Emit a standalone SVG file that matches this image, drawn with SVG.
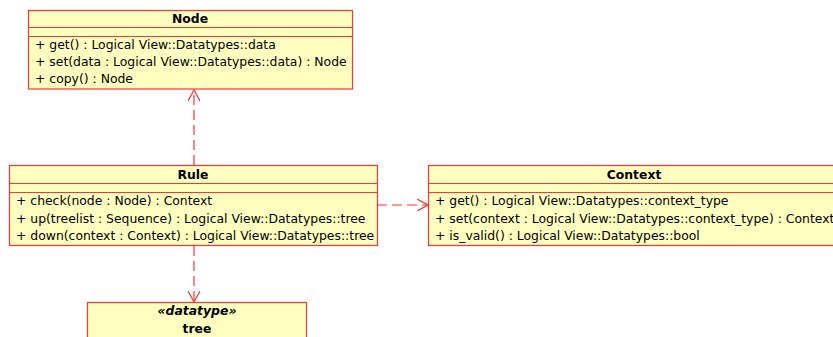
<svg xmlns="http://www.w3.org/2000/svg" width="833" height="337" viewBox="0 0 833 337">
<defs>
<style>
.box{fill:#ffffc0;stroke:#ff3333;stroke-width:1.2}
.ln{stroke:#ff3333;stroke-width:1.2}
text{font-family:"DejaVu Sans",sans-serif;font-size:12.4px;fill:#000}
.t{font-weight:bold;text-anchor:middle}
.st{font-weight:bold;font-style:italic;text-anchor:middle}
.dep{fill:none;stroke:#ff3333;stroke-width:1.2;stroke-dasharray:10,5}
</style>
<marker id="open" markerWidth="12" markerHeight="12" refX="11" refY="6" orient="auto" markerUnits="userSpaceOnUse">
<path d="M0,0 L11,6 L0,12" fill="none" stroke="#ff3333" stroke-width="1.2"/>
</marker>
</defs>
<g id="connectors">
<path class="dep" d="M194,165 L194,90" marker-end="url(#open)"/>
<path class="dep" d="M377,205 L428,205" marker-end="url(#open)"/>
<path class="dep" d="M194,246 L194,302" marker-end="url(#open)"/>
</g>
<g id="Node">
<rect class="box" x="28.5" y="10.5" width="324" height="78.5"/>
<line class="ln" x1="28.5" y1="27.5" x2="352.5" y2="27.5"/>
<line class="ln" x1="28.5" y1="36.5" x2="352.5" y2="36.5"/>
<text class="t" x="190" y="22.7">Node</text>
<text x="35" y="48.5">+ get() : Logical View::Datatypes::data</text>
<text x="35" y="66">+ set(data : Logical View::Datatypes::data) : Node</text>
<text x="35" y="83">+ copy() : Node</text>
</g>
<g id="Rule">
<rect class="box" x="9.5" y="165.5" width="368" height="80"/>
<line class="ln" x1="9.5" y1="183.5" x2="377.5" y2="183.5"/>
<line class="ln" x1="9.5" y1="192.5" x2="377.5" y2="192.5"/>
<text class="t" x="193" y="178.7">Rule</text>
<text x="16" y="205">+ check(node : Node) : Context</text>
<text x="16" y="222.5">+ up(treelist : Sequence) : Logical View::Datatypes::tree</text>
<text x="16" y="240">+ down(context : Context) : Logical View::Datatypes::tree</text>
</g>
<g id="Context">
<rect class="box" x="428.5" y="165.5" width="420" height="80"/>
<line class="ln" x1="428.5" y1="183.5" x2="848.5" y2="183.5"/>
<line class="ln" x1="428.5" y1="192.5" x2="848.5" y2="192.5"/>
<text class="t" x="634" y="178.7">Context</text>
<text x="435" y="205">+ get() : Logical View::Datatypes::context_type</text>
<text x="435" y="222.5">+ set(context : Logical View::Datatypes::context_type) : Context</text>
<text x="435" y="240">+ is_valid() : Logical View::Datatypes::bool</text>
</g>
<g id="tree">
<rect class="box" x="87.5" y="302.5" width="219" height="50"/>
<text class="st" x="197" y="315">«datatype»</text>
<text class="t" x="197" y="332.7">tree</text>
</g>
</svg>
